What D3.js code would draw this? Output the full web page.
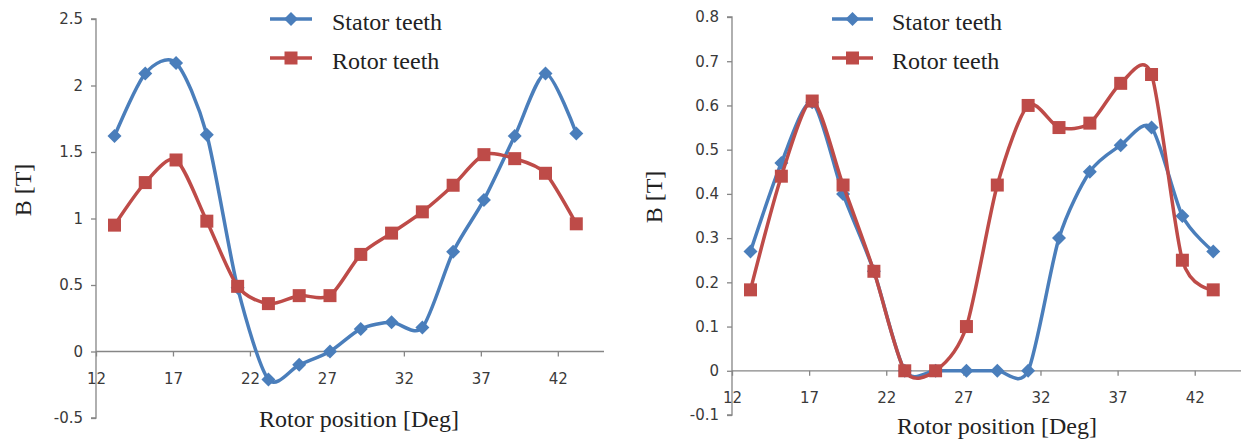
<!DOCTYPE html>
<html>
<head>
<meta charset="utf-8">
<script src="https://cdn.jsdelivr.net/npm/d3@7"></script>
<style>
  html, body { margin: 0; padding: 0; background: #fff; }
  svg { display: block; }
</style>
</head>
<body>
<svg id="chart" width="1244" height="447"></svg>
<script>
// ---------- DATA ----------
const positions = [13.2, 15.2, 17.2, 19.2, 21.2, 23.2, 25.2, 27.2, 29.2, 31.2, 33.2, 35.2, 37.2, 39.2, 41.2, 43.2];

const leftStator = [1.62, 2.09, 2.17, 1.63, 0.48, -0.21, -0.10, 0.00, 0.17, 0.22, 0.18, 0.75, 1.14, 1.62, 2.09, 1.64];
const leftRotor  = [0.95, 1.27, 1.44, 0.98, 0.49, 0.36, 0.42, 0.42, 0.73, 0.89, 1.05, 1.25, 1.48, 1.45, 1.34, 0.96];

const rightStator = [0.27, 0.47, 0.607, 0.40, 0.225, 0.00, 0.00, 0.00, 0.00, 0.00, 0.30, 0.45, 0.51, 0.55, 0.35, 0.27];
const rightRotor  = [0.183, 0.44, 0.61, 0.42, 0.225, 0.00, 0.00, 0.10, 0.42, 0.60, 0.55, 0.56, 0.65, 0.67, 0.25, 0.183];

const xTicks = [12, 17, 22, 27, 32, 37, 42];
const leftYTicks = [-0.5, 0, 0.5, 1, 1.5, 2, 2.5];
const rightYTicks = [-0.1, 0, 0.1, 0.2, 0.3, 0.4, 0.5, 0.6, 0.7, 0.8];

const seriesNames = ["Stator teeth", "Rotor teeth"];
const xTitle = "Rotor position [Deg]";
const yTitle = "B [T]";

// ---------- STYLE ----------
const BLUE = "#4a7ebb";
const RED = "#be4b48";
const AXIS = "#868686";
const TICKTXT = "#3a3a3a";
const SERIF = "'Liberation Serif', 'Times New Roman', serif";
const SANS = "'DejaVu Sans', Verdana, sans-serif";

const svg = d3.select("#chart");

function diamondPath(s) { return `M0,${-s}L${s},0L0,${s}L${-s},0Z`; }
function squarePath(s) { return `M${-s},${-s}H${s}V${s}H${-s}Z`; }
const plainFmt = d => String(d);

function drawPanel(cfg, stator, rotor, yTicks) {
  const g = svg.append("g");
  const x = d3.scaleLinear().domain([12, 45]).range([cfg.x0, cfg.x1]);
  const y = d3.scaleLinear().domain(cfg.yDomain).range([cfg.yBottom, cfg.yTop]);

  // Y axis
  const yAxis = d3.axisLeft(y).tickValues(yTicks).tickSize(5).tickPadding(8).tickFormat(plainFmt);
  const ya = g.append("g").attr("transform", `translate(${cfg.x0},0)`).call(yAxis);
  ya.select(".domain").attr("stroke", AXIS).attr("stroke-width", 1.3)
    .attr("d", `M-5,${y(cfg.yDomain[1])}H0V${y(cfg.yDomain[0])}H-5`);
  ya.selectAll(".tick line").attr("stroke", AXIS).attr("stroke-width", 1.3);
  ya.selectAll(".tick text").attr("fill", TICKTXT).style("font-family", SANS).style("font-size", "15px");

  // X axis at y=0
  const xAxis = d3.axisBottom(x).tickValues(xTicks).tickSize(5).tickPadding(cfg.xLabelPad).tickFormat(plainFmt);
  const xa = g.append("g").attr("transform", `translate(0,${y(0)})`).call(xAxis);
  xa.select(".domain").attr("stroke", AXIS).attr("stroke-width", 1.3)
    .attr("d", `M${cfg.x0},0H${x(45)}`);
  xa.selectAll(".tick line").attr("stroke", AXIS).attr("stroke-width", 1.3);
  xa.selectAll(".tick text").attr("fill", TICKTXT).style("font-family", SANS).style("font-size", "15px");

  // Lines
  const line = d3.line().x(d => x(d[0])).y(d => y(d[1])).curve(d3.curveCardinal.tension(0.2));
  const series = [
    { vals: stator, color: BLUE, marker: diamondPath(7) },
    { vals: rotor, color: RED, marker: squarePath(6.5) }
  ];
  series.forEach(s => {
    const pts = positions.map((p, i) => [p, s.vals[i]]);
    g.append("path").datum(pts).attr("d", line)
      .attr("fill", "none").attr("stroke", s.color).attr("stroke-width", 3.5)
      .attr("stroke-linejoin", "round");
    g.append("g").selectAll("path").data(pts).join("path")
      .attr("transform", d => `translate(${x(d[0])},${y(d[1])})`)
      .attr("d", s.marker).attr("fill", s.color);
  });

  // Legend
  const leg = g.append("g");
  series.forEach((s, i) => {
    const ly = cfg.legY[i];
    leg.append("line").attr("x1", cfg.legX0).attr("x2", cfg.legX1).attr("y1", ly).attr("y2", ly)
      .attr("stroke", s.color).attr("stroke-width", 3.5);
    leg.append("path").attr("transform", `translate(${(cfg.legX0 + cfg.legX1) / 2},${ly})`)
      .attr("d", s.marker).attr("fill", s.color);
    leg.append("text").attr("x", cfg.legText).attr("y", ly + 11)
      .text(seriesNames[i]).attr("fill", "#222")
      .style("font-family", SERIF).style("font-size", "24px");
  });

  // Axis titles
  g.append("text").attr("x", cfg.xTitleX).attr("y", cfg.xTitleY).attr("text-anchor", "middle")
    .text(xTitle).attr("fill", "#222").style("font-family", SERIF).style("font-size", "24px");
  g.append("text").attr("transform", `translate(${cfg.yTitleX},${cfg.yTitleY}) rotate(-90)`)
    .attr("text-anchor", "middle").attr("dy", "0.35em")
    .text(yTitle).attr("fill", "#222").style("font-family", SERIF).style("font-size", "24px");
}

drawPanel({
  x0: 96, x1: 604, yDomain: [-0.5, 2.5], yBottom: 418, yTop: 19, xLabelPad: 17,
  legX0: 270, legX1: 312, legY: [19, 58], legText: 332,
  xTitleX: 359, xTitleY: 427, yTitleX: 23, yTitleY: 190
}, leftStator, leftRotor, leftYTicks);

drawPanel({
  x0: 732, x1: 1241, yDomain: [-0.1, 0.8], yBottom: 415, yTop: 17, xLabelPad: 17,
  legX0: 832, legX1: 873, legY: [19, 58], legText: 892,
  xTitleX: 997, xTitleY: 434, yTitleX: 654, yTitleY: 197
}, rightStator, rightRotor, rightYTicks);
</script>
</body>
</html>
